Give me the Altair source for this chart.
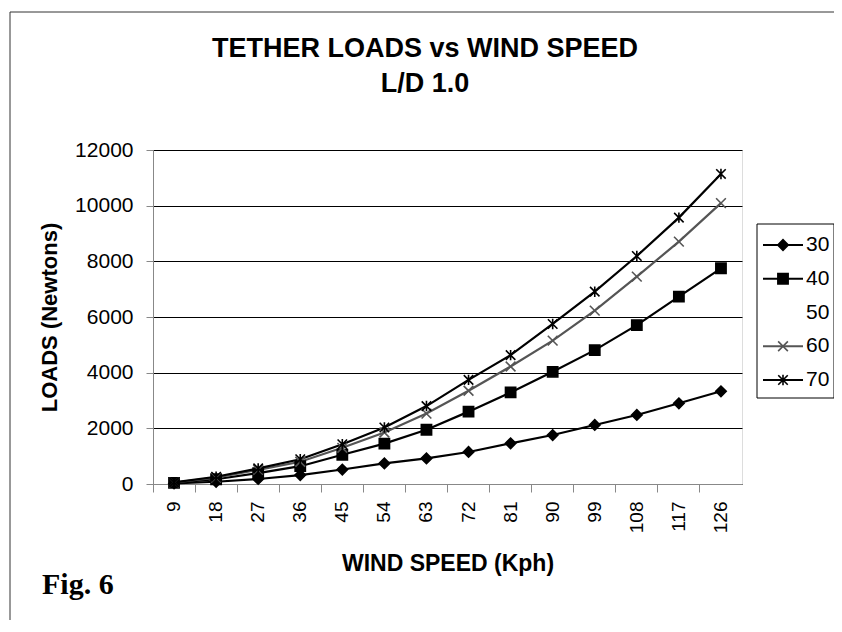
import altair as alt
import pandas as pd

# ---- data ----
speeds = [9, 18, 27, 36, 45, 54, 63, 72, 81, 90, 99, 108, 117, 126]
series_names = ["30", "40", "50", "60", "70"]
load_30 = [20, 80, 180, 320, 520, 740, 920, 1150, 1460, 1760, 2120, 2480, 2900, 3330]
load_40 = [40, 170, 390, 640, 1050, 1450, 1950, 2600, 3290, 4030, 4810, 5710, 6730, 7750]
load_60 = [55, 230, 510, 800, 1300, 1850, 2530, 3350, 4220, 5150, 6230, 7450, 8710, 10090]
load_70 = [60, 260, 560, 890, 1430, 2030, 2800, 3740, 4630, 5750, 6910, 8190, 9570, 11140]
y_ticks = [0, 2000, 4000, 6000, 8000, 10000, 12000]
title_lines = ["TETHER LOADS vs WIND SPEED", "L/D 1.0"]
x_title = "WIND SPEED (Kph)"
y_title = "LOADS (Newtons)"
fig_label = "Fig. 6"

series_loads = {"30": load_30, "40": load_40, "60": load_60, "70": load_70}
rows = [
    {"speed": s, "series": name, "load": v}
    for name, vals in series_loads.items()
    for s, v in zip(speeds, vals)
]
df = pd.DataFrame(rows)
legend_df = pd.DataFrame({"series": series_names})
one_row = pd.DataFrame({"k": [0]})

X_PATH = "M-1,-1L1,1M-1,1L1,-1"
STAR_PATH = "M-1,-1L1,1M-1,1L1,-1M0,-1.1L0,1.1"

shape_scale = alt.Scale(domain=series_names,
                        range=["diamond", "square", "circle", X_PATH, STAR_PATH])
fill_scale = alt.Scale(domain=series_names,
                       range=["black", "black", "transparent", "transparent", "transparent"])
stroke_scale = alt.Scale(domain=series_names,
                         range=["black", "black", "transparent", "#555555", "black"])
size_scale = alt.Scale(domain=series_names, range=[110, 90, 0, 70, 120])
sw_scale = alt.Scale(domain=series_names, range=[2.2, 2.2, 0, 1, 2.2])

FONT = "Liberation Sans"

x_enc = alt.X(
    "speed:O",
    sort=speeds,
    scale=alt.Scale(type="band", paddingInner=0, paddingOuter=0),
    axis=alt.Axis(
        title=x_title, labelAngle=-90, bandPosition=0, labelOffset=0,
        tickSize=8, labelPadding=9, grid=False, labelFontSize=19,
        titleFontSize=23, titleFontWeight="bold", titlePadding=20,
    ),
)
y_enc = alt.Y(
    "load:Q",
    scale=alt.Scale(domain=[0, 12000], nice=False),
    axis=alt.Axis(
        title=y_title, values=y_ticks, format="d", tickSize=7, labelPadding=13,
        labelFontSize=21, titleFontSize=22, titleFontWeight="bold", titlePadding=13,
        grid=True, gridColor="black", gridWidth=1,
    ),
)

lines = alt.Chart(df).mark_line().encode(
    x=x_enc, y=y_enc,
    detail="series:N",
    stroke=alt.Stroke("series:N", scale=stroke_scale, legend=None),
    strokeWidth=alt.StrokeWidth("series:O", scale=sw_scale, legend=None),
)
points = alt.Chart(df).mark_point(opacity=1, strokeWidth=1.6).encode(
    x=x_enc, y=y_enc,
    shape=alt.Shape("series:N", scale=shape_scale, legend=None),
    fill=alt.Fill("series:N", scale=fill_scale, legend=None),
    stroke=alt.Stroke("series:N", scale=stroke_scale, legend=None),
    size=alt.Size("series:O", scale=size_scale, legend=None),
)
main = alt.layer(lines, points)

# ---- legend ----
leg_y = alt.Y("series:N", scale=alt.Scale(type="point", domain=series_names,
                                          range=[95, 230], padding=0), axis=None)
leg_rules = alt.Chart(legend_df).mark_rule().encode(
    x=alt.value(610), x2=alt.value(650), y=leg_y,
    stroke=alt.Stroke("series:N", scale=stroke_scale, legend=None),
    strokeWidth=alt.StrokeWidth("series:O", scale=sw_scale, legend=None),
)
leg_points = alt.Chart(legend_df).mark_point(opacity=1, strokeWidth=1.6).encode(
    x=alt.value(630), y=leg_y,
    shape=alt.Shape("series:N", scale=shape_scale, legend=None),
    fill=alt.Fill("series:N", scale=fill_scale, legend=None),
    stroke=alt.Stroke("series:N", scale=stroke_scale, legend=None),
    size=alt.Size("series:O", scale=size_scale, legend=None),
)
leg_text = alt.Chart(legend_df).mark_text(
    align="left", baseline="middle", fontSize=21, font=FONT, color="black"
).encode(x=alt.value(653), y=leg_y, text="series:N")
legend_layer = alt.layer(leg_rules, leg_points, leg_text)

leg_box = alt.Chart(one_row).mark_rect(fillOpacity=0, stroke="black", strokeWidth=1).encode(
    x=alt.value(604), x2=alt.value(681), y=alt.value(74), y2=alt.value(248)
)

# ---- decorations: chart title, outer frame and figure label ----
title_text = alt.Chart(one_row).mark_text(
    text=title_lines, align="center", baseline="alphabetic", fontSize=27,
    font=FONT, fontWeight="bold", color="black", lineHeight=35
).encode(x=alt.value(272), y=alt.value(-93))
frame_left = alt.Chart(one_row).mark_rule(color="#333333", strokeWidth=1).encode(
    x=alt.value(-143), y=alt.value(-138), y2=alt.value(470)
)
frame_top = alt.Chart(one_row).mark_rule(color="#333333", strokeWidth=1).encode(
    x=alt.value(-143), x2=alt.value(690), y=alt.value(-138)
)
fig_text = alt.Chart(one_row).mark_text(
    text=fig_label, align="left", baseline="alphabetic", fontSize=30,
    font="Liberation Serif", fontWeight="bold", color="black"
).encode(x=alt.value(-111), y=alt.value(444))

chart = alt.layer(
    main, legend_layer, leg_box, title_text, frame_left, frame_top, fig_text
).resolve_scale(
    y="independent"
).properties(
    width=589,
    height=334,
    autosize=alt.AutoSizeParams(type="none"),
    padding={"left": 145, "top": 142, "right": 92, "bottom": 136},
).configure_view(
    stroke="#666666", strokeWidth=1
).configure_axis(
    labelFont=FONT, titleFont=FONT, labelColor="black", titleColor="black",
    domainColor="black", tickColor="black", domainWidth=1.5, tickWidth=1,
).configure(background="white")

chart.save("out.html", embed_options={"renderer": "svg", "actions": False})
